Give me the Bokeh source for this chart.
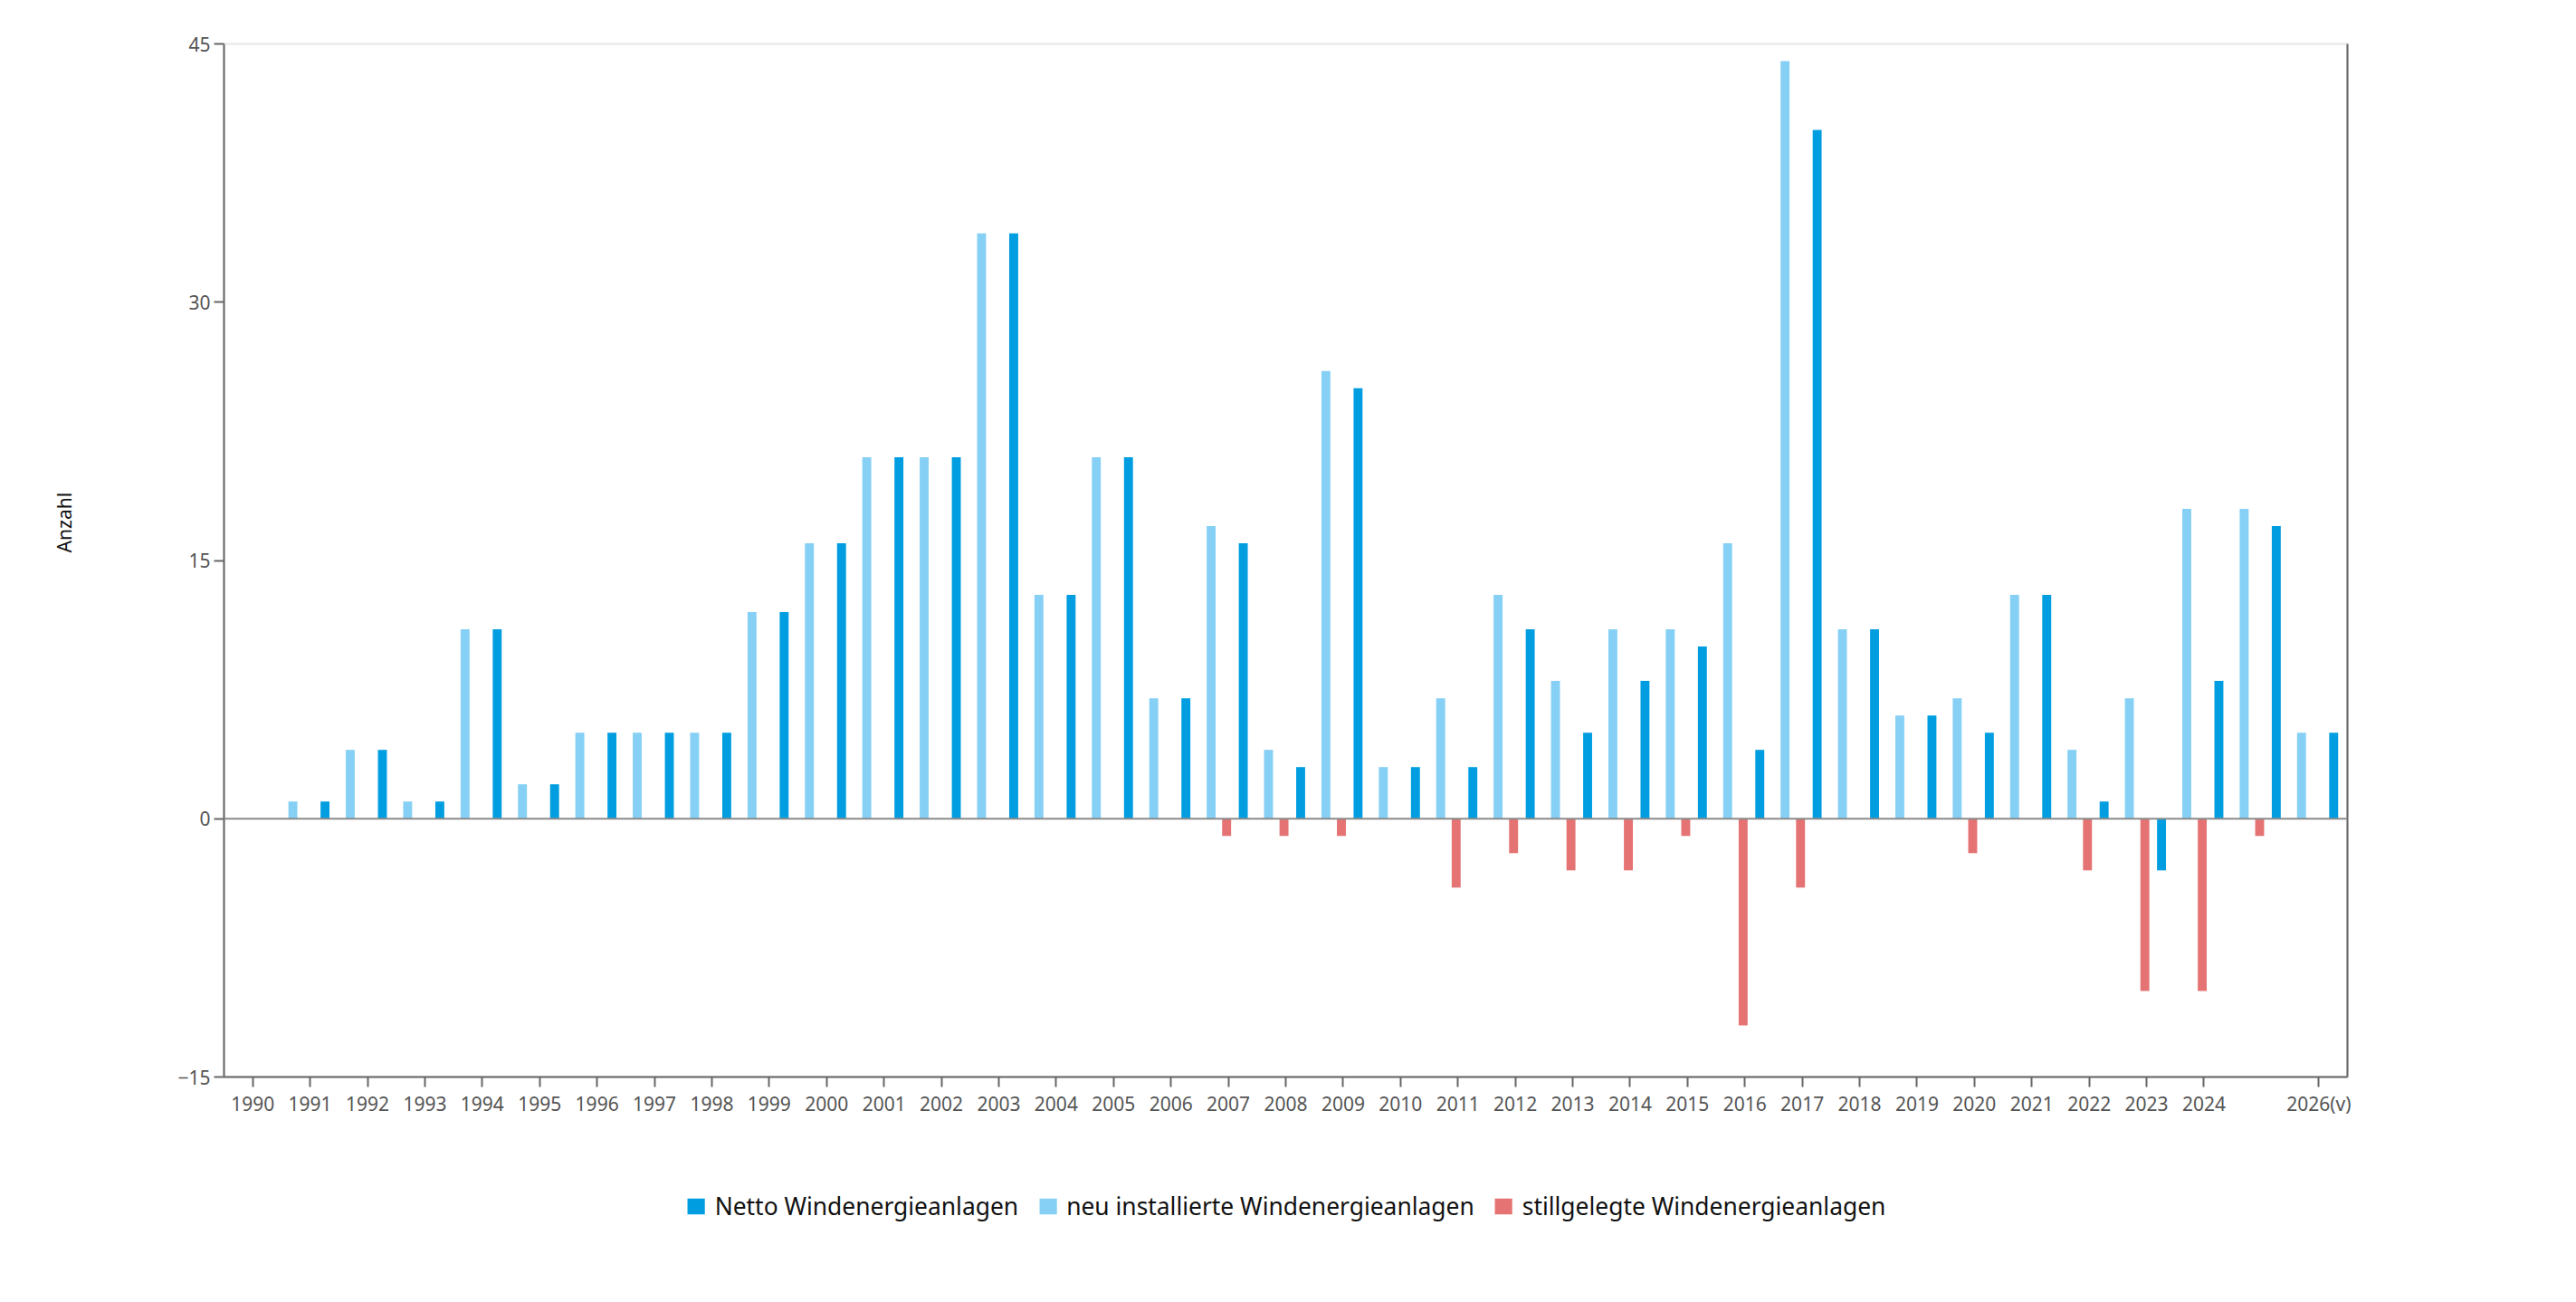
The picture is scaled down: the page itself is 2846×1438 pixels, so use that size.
import math
from bokeh.plotting import figure
from bokeh.layouts import column, row
from bokeh.core.properties import value
from bokeh.models import (ColumnDataSource, FixedTicker, Span, LinearAxis, Legend,
                          LegendItem, Range1d)
from bokeh.embed import file_html
from bokeh.resources import INLINE

years = ["1990", "1991", "1992", "1993", "1994", "1995", "1996", "1997", "1998", "1999",
         "2000", "2001", "2002", "2003", "2004", "2005", "2006", "2007", "2008", "2009",
         "2010", "2011", "2012", "2013", "2014", "2015", "2016", "2017", "2018", "2019",
         "2020", "2021", "2022", "2023", "2024", "2025", "2026(v)"]
tick_labels = ["1990", "1991", "1992", "1993", "1994", "1995", "1996", "1997", "1998", "1999",
               "2000", "2001", "2002", "2003", "2004", "2005", "2006", "2007", "2008", "2009",
               "2010", "2011", "2012", "2013", "2014", "2015", "2016", "2017", "2018", "2019",
               "2020", "2021", "2022", "2023", "2024", "", "2026(v)"]
neu_installiert = [0, 1, 4, 1, 11, 2, 5, 5, 5, 12, 16, 21, 21, 34, 13, 21, 7, 17, 4, 26,
                   3, 7, 13, 8, 11, 11, 16, 44, 11, 6, 7, 13, 4, 7, 18, 18, 5]
stillgelegt = [0, 0, 0, 0, 0, 0, 0, 0, 0, 0, 0, 0, 0, 0, 0, 0, 0, -1, -1, -1,
               0, -4, -2, -3, -3, -1, -12, -4, 0, 0, -2, 0, -3, -10, -10, -1, 0]
netto = [0, 1, 4, 1, 11, 2, 5, 5, 5, 12, 16, 21, 21, 34, 13, 21, 7, 16, 3, 25,
         3, 3, 11, 5, 8, 10, 4, 40, 11, 6, 5, 13, 1, -3, 8, 17, 5]
y_ticks = [-15, 0, 15, 30, 45]
y_title = "Anzahl"
legend_labels = ["Netto Windenergieanlagen", "neu installierte Windenergieanlagen",
                 "stillgelegte Windenergieanlagen"]

C_NETTO = "#009ee0"
C_NEU = "#86d0f5"
C_STILL = "#e57373"
FONT = "Noto Sans"
WL = 150            # width of the strip holding the y title
W = 2830 - WL
ML, MR = 247 - WL, 228
MT, MB = 48, 79
H = 1268

def make_source(vals, offset):
    xs = [i + offset for i, v in enumerate(vals) if v != 0]
    ys = [v for v in vals if v != 0]
    return ColumnDataSource(dict(x=xs, top=ys))

yr = Range1d(-15, 45)
p = figure(width=W, height=H, output_backend="svg", toolbar_location=None,
           x_range=Range1d(-0.5, len(years) - 0.5), y_range=yr,
           min_border_left=ML, min_border_right=MR, min_border_top=MT,
           min_border_bottom=MB)
p.background_fill_color = "white"
p.border_fill_color = "white"
p.outline_line_color = "#eeeeee"
p.outline_line_width = 3
p.xgrid.visible = False
p.ygrid.visible = False

bw = 0.156
p.vbar(x="x", top="top", bottom=0, width=bw, source=make_source(neu_installiert, -0.30),
       fill_color=C_NEU, line_color=None)
p.vbar(x="x", top="top", bottom=0, width=bw, source=make_source(stillgelegt, -0.03),
       fill_color=C_STILL, line_color=None)
p.vbar(x="x", top="top", bottom=0, width=bw, source=make_source(netto, 0.26),
       fill_color=C_NETTO, line_color=None)

p.add_layout(Span(location=0, dimension="width", line_color="#8a8a8a", line_width=2))

AX = "#666666"
ya = p.yaxis[0]
ya.ticker = FixedTicker(ticks=y_ticks)
ya.minor_tick_line_color = None
ya.major_tick_in = 0
ya.major_tick_out = 11
ya.major_tick_line_color = AX
ya.major_tick_line_width = 2
ya.axis_line_color = AX
ya.axis_line_width = 2
ya.major_label_text_font = FONT
ya.major_label_text_font_size = "21px"
ya.major_label_text_color = "#555555"
ya.major_label_standoff = 4

xa = p.xaxis[0]
xticks = [i for i, t in enumerate(tick_labels) if t != ""]
xa.ticker = FixedTicker(ticks=xticks)
xa.major_label_overrides = {i: tick_labels[i] for i in xticks}
xa.minor_tick_line_color = None
xa.major_tick_in = 0
xa.major_tick_out = 11
xa.major_tick_line_color = AX
xa.major_tick_line_width = 2
xa.axis_line_color = AX
xa.axis_line_width = 2
xa.major_label_text_font = FONT
xa.major_label_text_font_size = "21px"
xa.major_label_text_color = "#555555"
xa.major_label_standoff = 4

ra = LinearAxis(ticker=FixedTicker(ticks=[]), axis_line_color=AX, axis_line_width=2,
                major_tick_line_color=None, minor_tick_line_color=None,
                major_label_text_font_size="0px")
p.add_layout(ra, "right")

# y-axis title strip (shares the y range so the title sits at the right height)
yl = figure(width=WL, height=H, output_backend="svg", toolbar_location=None,
            x_axis_location=None, y_axis_location=None,
            x_range=Range1d(0, WL), y_range=yr,
            min_border_left=0, min_border_right=0, min_border_top=MT, min_border_bottom=MB)
yl.outline_line_color = None
yl.xgrid.visible = False
yl.ygrid.visible = False
yl.text(x=[70], y=[17.2], text=[y_title], angle=math.pi / 2, text_align="center",
        text_baseline="middle", text_font=value(FONT), text_font_size="21px",
        text_color="#111111")

# legend strip
lg = figure(width=W, height=152, output_backend="svg", toolbar_location=None,
            x_axis_location=None, y_axis_location=None,
            x_range=Range1d(0, 1), y_range=Range1d(0, 1),
            min_border_left=ML - 9, min_border_right=MR + 9, min_border_top=0,
            min_border_bottom=24)
lg.outline_line_color = None
lg.xgrid.visible = False
lg.ygrid.visible = False
rs = []
for col in [C_NETTO, C_NEU, C_STILL]:
    rs.append(lg.vbar(x=[float("nan")], top=[float("nan")], width=0.1,
                      fill_color=col, line_color=None))
legend = Legend(items=[LegendItem(label=lab, renderers=[r]) for lab, r in zip(legend_labels, rs)],
                orientation="horizontal", location="center")
legend.label_text_font = FONT
legend.label_text_font_size = "26.4px"
legend.label_text_color = "#111111"
legend.glyph_width = 24
legend.glyph_height = 22
legend.label_standoff = 9
legend.spacing = 20
legend.padding = 0
legend.margin = 0
legend.border_line_color = None
legend.background_fill_alpha = 0
lg.add_layout(legend, "center")

layout = row(yl, column(p, lg, spacing=0), spacing=0)
open("out.html", "w").write(file_html(layout, INLINE))
